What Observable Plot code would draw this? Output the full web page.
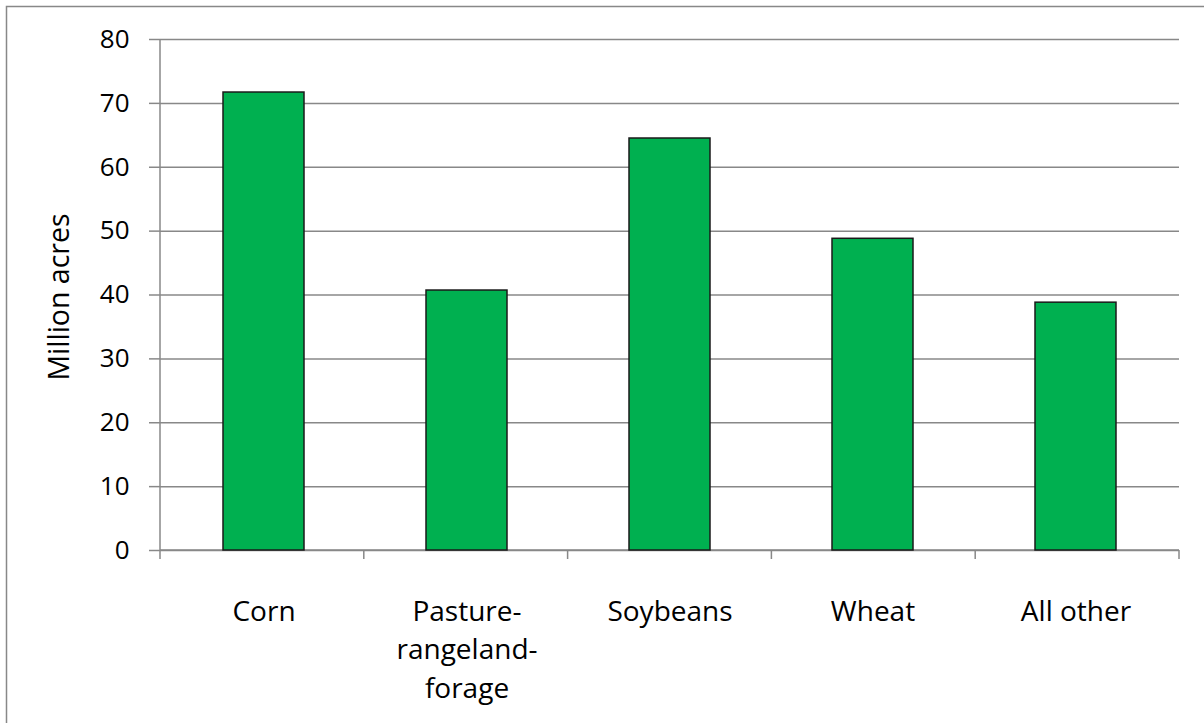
<!DOCTYPE html>
<html>
<head>
<meta charset="utf-8">
<script src="https://cdn.jsdelivr.net/npm/d3@7"></script>
<script src="https://cdn.jsdelivr.net/npm/@observablehq/plot@0.6"></script>
<style>
  html, body { margin: 0; padding: 0; background: #fff; }
  #chart svg { display: block; }
</style>
</head>
<body>
<div id="chart"></div>
<script>
// Land area by crop, million acres
const crops = ["Corn", "Pasture-rangeland-forage", "Soybeans", "Wheat", "All other"];
const acres = [71.7, 40.7, 64.5, 48.8, 38.8];
const cropLabels = ["Corn", "Pasture-\nrangeland-\nforage", "Soybeans", "Wheat", "All other"];
const yTicks = [0, 10, 20, 30, 40, 50, 60, 70, 80];

const data = crops.map((c, i) => ({crop: c, acres: acres[i], label: cropLabels[i]}));

const gray = "#888";
const font = "Open Sans, sans-serif";

// Axis lines, category boundary ticks and the outer border
function axisLines(index, scales, values, dims) {
  const g = d3.create("svg:g").attr("stroke", gray).attr("fill", "none");
  const x0 = dims.marginLeft, x1 = dims.width - dims.marginRight;
  const y0 = dims.marginTop, y1 = dims.height - dims.marginBottom;
  const step = (x1 - x0) / crops.length;
  g.append("line").attr("x1", x0).attr("x2", x0).attr("y1", y0).attr("y2", y1).attr("stroke-width", 1.5);
  g.append("line").attr("x1", x0).attr("x2", x1).attr("y1", y1).attr("y2", y1).attr("stroke-width", 1.5);
  for (let i = 0; i <= crops.length; i++) {
    const x = x0 + i * step;
    g.append("line").attr("x1", x).attr("x2", x).attr("y1", y1).attr("y2", y1 + 9).attr("stroke-width", 1.5);
  }
  // border
  g.append("path")
    .attr("d", `M6.5,${dims.height}V6.5H${dims.width}`)
    .attr("stroke-width", 1.5);
  return g.node();
}

const chart = Plot.plot({
  width: 1204,
  height: 723,
  marginLeft: 160,
  marginRight: 25,
  marginTop: 39,
  marginBottom: 173,
  style: {fontFamily: font, color: "black", background: "white"},
  x: {domain: crops, paddingInner: 0.6, paddingOuter: 0.3, axis: null},
  y: {domain: [0, 80], axis: null},
  marks: [
    Plot.gridY(yTicks, {stroke: gray, strokeOpacity: 1, strokeWidth: 1.5}),
    Plot.axisY(yTicks, {
      tickSize: 11, tickPadding: 20, fontSize: 26, stroke: gray, strokeWidth: 1.5,
      fill: "black", label: null, tickFormat: d => String(d)
    }),
    axisLines,
    Plot.barY(data, {x: "crop", y: "acres", fill: "#00b050", stroke: "#1a1a1a", strokeWidth: 1.5}),
    Plot.text(data, {
      x: "crop", text: "label", frameAnchor: "bottom", dy: 43, lineAnchor: "top",
      fontSize: 28, lineHeight: 1.375, fill: "black"
    }),
    Plot.text(["Million acres"], {
      frameAnchor: "left", rotate: -90, dx: -101, dy: 2, lineAnchor: "middle",
      textAnchor: "middle", fontSize: 28.5, fill: "black"
    })
  ]
});

document.getElementById("chart").appendChild(chart);
</script>
</body>
</html>
